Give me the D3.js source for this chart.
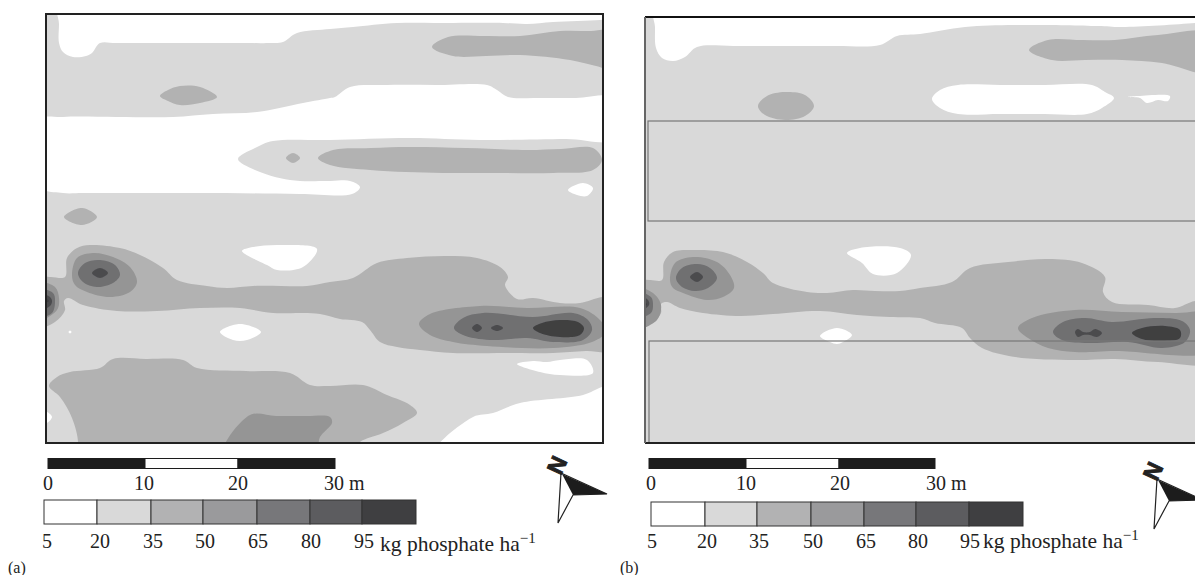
<!DOCTYPE html>
<html>
<head>
<meta charset="utf-8">
<script src="https://cdn.jsdelivr.net/npm/d3@7"></script>
<style>
  body { margin: 0; background: #fff; }
  text { font-family: "Liberation Serif", serif; fill: #222; }
</style>
</head>
<body>
<svg id="chart" width="1195" height="575"></svg>
<script>
// class breaks, kg phosphate per ha
const breaks = [5, 20, 35, 50, 65, 80, 95, 110];
const breakLabels = [5, 20, 35, 50, 65, 80, 95];
const levelColors = ["#ffffff", "#d9d9d9", "#b2b2b3", "#9a9a9c", "#77777a", "#5c5c5f", "#3f3f41"];
const mapColors = ["#ffffff", "#d9d9d9", "#b2b2b2", "#959595", "#6f6f71", "#4c4c4e", "#3f3f41"];
const distanceStops = [0, 10, 20, 30];

// contour outlines, in survey units from the plot's top left corner
// panel (a)
const aWhiteTop = [[13,-9],[13,10],[13,29],[17,38],[27,43],[40,42],[46,39],[54,29],[70,29],[110,29],[150,29],[190,29],[225,29],[237,28],[251,19],[284,15],[307,13],[351,9],[407,9],[457,9],[481,10],[507,8],[554,6],[570,4],[570,-9],[300,-9]];
const aWhiteMid = [[-8,106],[17,103],[70,103],[127,103],[167,100],[211,98],[257,89],[284,84],[289,83],[304,73],[341,71],[390,71],[441,71],[451,76],[462,83],[490,84],[530,84],[570,84],[570,125],[520,125],[434,126],[364,124],[284,126],[227,127],[209,134],[192,145],[209,156],[244,166],[284,167],[304,167],[314,173],[306,180],[254,180],[180,179],[110,179],[37,179],[17,179],[-8,172]];
const aWhiteA = [[522,176],[537,169],[547,174],[541,182],[531,181]];
const aWhiteB = [[196,237],[207,233],[234,231],[271,235],[257,253],[231,256],[221,251]];
const aWhiteC = [[174,318],[194,310],[215,318],[201,326],[187,326]];
const aWhiteDot = [[22.5,318],[24,316.5],[25.5,318],[24,319.5]];
const aWhiteEdge = [[-2,398],[1,398],[6,403],[1,409],[-2,409]];
const aWhiteCorner = [[390,437],[427,403],[447,399],[474,389],[537,381],[556,373],[570,370],[570,437],[480,437]];
const aWhiteRag = [[471,350],[487,347],[501,348],[514,346],[541,346],[547,359],[514,361],[494,358]];
const aBlobUpper = [[114,82],[122,76],[134,72],[154,73],[171,83],[154,89],[134,91],[122,87]];
const aBlobTopRight = [[386,33],[402,23],[440,22],[474,22],[514,17],[545,17],[570,17],[570,56],[550,52],[524,46],[474,41],[440,42],[407,42]];
const aBlobDot = [[240,144],[247,139],[254,144],[247,149]];
const aBlobLong = [[272,144],[287,136],[325,134],[364,133],[420,134],[481,136],[515,135],[547,134],[556,146],[547,156],[507,159],[450,159],[397,159],[360,158],[324,156],[284,151]];
const aBlobLeft = [[18,203],[36,194],[51,203],[36,211]];
const aBand = [[-8,263],[5,263],[19,263],[21,244],[31,234],[44,231],[74,234],[94,241],[117,254],[131,266],[161,272],[181,274],[207,272],[235,272],[261,272],[284,268],[307,264],[331,249],[361,244],[401,242],[431,244],[454,253],[462,263],[459,271],[471,285],[487,284],[514,289],[534,289],[556,283],[570,283],[570,336],[540,337],[507,339],[460,339],[407,339],[374,336],[351,333],[334,328],[324,316],[316,308],[294,305],[274,300],[257,299],[227,299],[194,294],[154,294],[111,297],[71,297],[37,291],[22,284],[18,287],[19,296],[9,308],[-8,313]];
const aLower = [[3,372],[11,363],[24,358],[54,354],[67,345],[100,345],[137,346],[151,354],[200,357],[244,359],[264,371],[284,372],[317,371],[341,381],[364,391],[371,399],[357,409],[337,419],[314,428],[308,437],[170,437],[30,437],[32,428],[26,404],[14,383]];
const aLowerPatch = [[178,437],[204,401],[230,402],[260,402],[284,403],[286,409],[274,423],[270,437],[225,437]];
const aSpot3 = [[26,261],[31,244],[47,239],[67,243],[84,253],[91,268],[84,278],[64,283],[41,278],[29,271]];
const aSpot4 = [[32,259],[39,249],[54,246],[69,251],[74,261],[67,269],[51,273],[37,268]];
const aSpot5 = [[46,259],[54,254],[62,259],[54,264]];
const aEdge3 = [[-8,269],[9,273],[13,284],[11,296],[-8,306]];
const aEdge4 = [[-8,276],[7,279],[9,288],[6,299],[-8,303]];
const aEdge5 = [[-8,279],[4,283],[6,287],[4,292],[-8,296]];
const aEdge6 = [[-8,283],[3,287],[-8,291]];
const aEast3 = [[373,310],[384,300],[434,292],[481,294],[534,294],[554,306],[560,318],[546,328],[507,334],[441,332],[407,328],[384,321]];
const aEast4 = [[408,314],[417,304],[437,299],[487,303],[527,299],[542,306],[546,316],[537,326],[507,328],[481,324],[444,326],[417,321]];
const aEastPeak = [[487,314],[496,309],[514,306],[532,308],[538,314],[534,321],[514,323],[494,319]];
const aEastDotA = [[426,314],[431,310],[436,314],[431,318]];
const aEastDotB = [[445,314],[451,311],[457,314],[451,317]];

// panel (b)
const bWhiteTop = [[10,-8],[10,10],[11,31],[17,41],[28,44],[40,40],[52,30],[90,29],[140,29],[190,29],[235,28],[252,19],[275,17],[320,10],[370,8],[453,9],[477,10],[550,6],[570,4],[570,-8],[300,-8]];
const bWhiteMid = [[287,82],[295,73],[313,68],[355,68],[400,68],[447,68],[460,75],[469,81],[457,91],[442,97],[400,97],[355,97],[313,97],[295,91]];
const bWhiteSmall = [[483,80],[493,79],[525,79],[523,84],[513,83],[502,86],[495,81]];
const bWhiteA = [[202,236],[215,231],[255,231],[266,238],[252,256],[228,257],[217,246]];
const bWhiteB = [[175,319],[192,311],[207,318],[198,325],[192,327],[185,325]];
const bBlobUpper = [[113,89],[122,79],[140,75],[160,78],[169,89],[160,99],[140,103],[120,98]];
const bBlobTopRight = [[384,33],[403,23],[437,23],[470,23],[513,18],[570,17],[570,56],[517,46],[477,43],[440,43],[407,43]];
const bBand = [[-8,264],[5,263],[17,263],[19,245],[28,235],[45,233],[78,235],[102,245],[118,256],[128,266],[162,275],[182,276],[208,273],[230,274],[255,274],[275,271],[307,265],[325,251],[363,245],[403,242],[437,246],[460,260],[458,275],[467,285],[503,288],[530,291],[550,284],[570,284],[570,344],[513,345],[470,342],[430,343],[370,340],[337,331],[325,321],[317,311],[290,306],[275,301],[245,300],[212,298],[175,294],[128,297],[95,299],[58,296],[35,291],[22,285],[16,287],[16,296],[7,306],[-8,311]];
const bSpot3 = [[25,263],[30,246],[48,240],[72,245],[85,258],[89,271],[78,280],[62,283],[38,276],[28,271]];
const bSpot4 = [[31,261],[37,251],[52,247],[65,251],[72,261],[63,271],[50,274],[37,270]];
const bSpot5 = [[45,260],[52,255],[58,260],[52,265]];
const bEdge3 = [[-8,271],[8,276],[16,288],[12,303],[-8,311]];
const bEdge4 = [[-8,275],[6,280],[8,288],[6,296],[-8,300]];
const bEdge5 = [[-8,278],[3,283],[4,288],[-8,295]];
const bEdge6 = [[-8,283],[2,287],[-8,292]];
const bEast3 = [[373,311],[387,301],[430,293],[477,295],[530,296],[570,297],[570,333],[470,334],[430,335],[403,331],[383,321]];
const bEast4 = [[408,315],[418,305],[440,301],[467,305],[510,301],[537,304],[545,313],[540,325],[517,331],[483,325],[440,326],[417,323]];
const bEastPeak = [[487,316],[497,311],[520,309],[535,313],[535,321],[517,324],[497,322]];
const bEastBone = [[430,315],[433,312],[438,315],[445,315],[450,312],[457,316],[452,320],[445,318],[438,318],[433,320]];
const bPlots = [[3,104,600,204],[4,324,600,426]];

const layersA = [
  [0, aWhiteTop], [0, aWhiteMid], [0, aWhiteA], [0, aWhiteB], [0, aWhiteC], [0, aWhiteDot], [0, aWhiteEdge], [0, aWhiteCorner], [0, aWhiteRag],
  [2, aBlobUpper], [2, aBlobTopRight], [2, aBlobDot], [2, aBlobLong], [2, aBlobLeft], [2, aBand], [2, aLower],
  [3, aLowerPatch], [3, aSpot3], [3, aEdge3], [3, aEast3],
  [4, aSpot4], [4, aEdge4], [4, aEast4],
  [5, aSpot5], [5, aEdge5], [5, aEastDotA], [5, aEastDotB],
  [6, aEdge6], [6, aEastPeak]
];
const layersB = [
  [0, bWhiteTop], [0, bWhiteMid], [0, bWhiteSmall], [0, bWhiteA], [0, bWhiteB],
  [2, bBlobUpper], [2, bBlobTopRight], [2, bBand],
  [3, bSpot3], [3, bEdge3], [3, bEast3],
  [4, bSpot4], [4, bEdge4], [4, bEast4],
  [5, bSpot5], [5, bEdge5], [5, bEastBone],
  [6, bEdge6], [6, bEastPeak]
];

const svg = d3.select("#chart");

// the printed figure is a little soft, so the map fills get a slight blur
svg.append("filter").attr("id", "soft")
  .append("feGaussianBlur").attr("stdDeviation", 0.6);

function drawMap(id, layers, left, top, w, h, plots) {
  const x = d3.scaleLinear().domain([0, 557]).range([left, left + 557]);
  const y = d3.scaleLinear().domain([0, h]).range([top, top + h]);
  const outline = d3.line().x(d => x(d[0])).y(d => y(d[1])).curve(d3.curveCatmullRomClosed.alpha(0.5));

  svg.append("clipPath").attr("id", id).append("rect")
    .attr("x", left).attr("y", top).attr("width", w).attr("height", h);

  const clip = svg.append("g").attr("clip-path", `url(#${id})`);
  const g = clip.append("g").attr("filter", "url(#soft)");
  g.append("rect").attr("x", left - 10).attr("y", top - 10).attr("width", w + 20).attr("height", h + 20).attr("fill", mapColors[1]);
  g.selectAll("path").data(layers).enter().append("path")
    .attr("d", d => outline(d[1]))
    .attr("fill", d => mapColors[d[0]]);

  clip.selectAll("rect.plot").data(plots).enter().append("rect")
    .attr("class", "plot")
    .attr("x", d => x(d[0])).attr("y", d => y(d[1]))
    .attr("width", d => x(d[2]) - x(d[0])).attr("height", d => y(d[3]) - y(d[1]))
    .attr("fill", "none").attr("stroke", "#777").attr("stroke-width", 1.2);
}

function drawScaleBar(range, labelX) {
  const sx = d3.scaleLinear().domain(distanceStops).range(range);
  svg.append("g").selectAll("rect").data(d3.pairs(distanceStops)).enter().append("rect")
    .attr("x", d => sx(d[0])).attr("y", 458.5)
    .attr("width", d => sx(d[1]) - sx(d[0])).attr("height", 10)
    .attr("fill", (d, i) => i == 1 ? "#fff" : "#1c1c1c")
    .attr("stroke", "#1c1c1c");
  svg.append("g").selectAll("text").data(distanceStops).enter().append("text")
    .attr("x", (d, i) => labelX[i]).attr("y", 490)
    .attr("text-anchor", (d, i) => i == 3 ? "start" : "middle")
    .style("font-size", "20px")
    .text(d => d == 30 ? "30 m" : d);
}

function drawLegend(range, top, labelX, unitX, unitY) {
  const lx = d3.scaleLinear().domain(breaks).range(range);
  svg.append("g").selectAll("rect").data(d3.pairs(breaks)).enter().append("rect")
    .attr("x", d => lx(d[0])).attr("y", top)
    .attr("width", d => lx(d[1]) - lx(d[0])).attr("height", 24)
    .attr("fill", (d, i) => levelColors[i])
    .attr("stroke", "#333").attr("stroke-width", 1);
  svg.append("g").selectAll("text").data(breakLabels).enter().append("text")
    .attr("x", (d, i) => labelX[i]).attr("y", 548)
    .attr("text-anchor", "middle")
    .style("font-size", "20px")
    .text(d => d);
  const unit = svg.append("text").attr("x", unitX).attr("y", unitY).style("font-size", "21.5px");
  unit.append("tspan").text("kg phosphate ha");
  unit.append("tspan").attr("dy", -8).style("font-size", "15px").text("\u22121");
}

function drawNorth(tx, ty) {
  const g = svg.append("g").attr("transform", `translate(${tx},${ty})`);
  g.append("path").attr("d", "M3,6 L49,27 L15,28 L0,56 Z")
    .attr("fill", "#fff").attr("stroke", "#222").attr("stroke-width", 1.2);
  g.append("path").attr("d", "M4,7 L49,27 L15,28 Z").attr("fill", "#1c1c1c");
  g.append("text")
    .attr("transform", "translate(-1,-2) rotate(-65)")
    .attr("text-anchor", "middle")
    .attr("dy", "0.35em")
    .attr("stroke", "#222")
    .attr("stroke-width", 0.9)
    .style("font-family", "'Liberation Sans', sans-serif")
    .style("font-weight", "bold")
    .style("font-size", "23px")
    .text("N");
}

drawMap("mapA", layersA, 46, 14, 557, 429, []);
drawMap("mapB", layersB, 645, 17, 550, 426, bPlots);

// frames
svg.append("rect").attr("x", 46).attr("y", 14).attr("width", 557).attr("height", 429)
  .attr("fill", "none").attr("stroke", "#222").attr("stroke-width", 2);
svg.append("line").attr("x1", 645).attr("x2", 1195).attr("y1", 17).attr("y2", 17).attr("stroke", "#111").attr("stroke-width", 2);
svg.append("line").attr("x1", 645).attr("x2", 1195).attr("y1", 443).attr("y2", 443).attr("stroke", "#222").attr("stroke-width", 2);
svg.append("line").attr("x1", 645).attr("x2", 645).attr("y1", 17).attr("y2", 443).attr("stroke", "#666").attr("stroke-width", 2);

drawScaleBar([48, 145, 238, 335], [48, 144, 238, 324]);
drawScaleBar([649, 746, 839, 935], [651, 746, 840, 926]);
drawLegend([44, 97, 151, 203, 257, 310, 362, 416], 500, [47, 100, 153, 205, 258, 311, 364], 380, 551);
drawLegend([651, 705, 757, 811, 864, 916, 969, 1023], 502, [652, 707, 759, 813, 866, 918, 970], 983, 548);
drawNorth(558, 467);
drawNorth(1154, 473);

svg.append("text").attr("x", 8).attr("y", 573).style("font-size", "16px").text("(a)");
svg.append("text").attr("x", 620).attr("y", 573).style("font-size", "16px").text("(b)");
</script>
</body>
</html>
